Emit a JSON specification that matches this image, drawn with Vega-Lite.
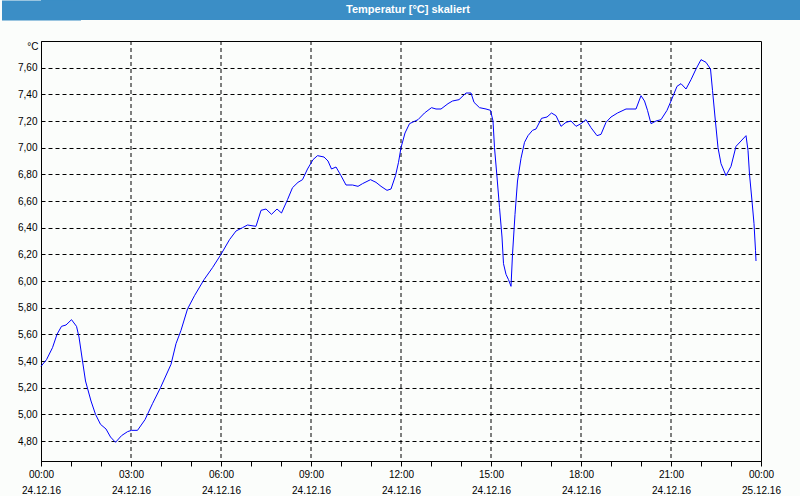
{
  "$schema": "https://vega.github.io/schema/vega-lite/v6.json",
  "background": "#fbfdfb",
  "padding": 0,
  "spacing": 20,
  "columns": 1,
  "config": {"font": "Liberation Sans"},
  "concat": [
    {
      "width": 760,
      "height": 20,
      "view": {"fill": "#3b8ec6", "stroke": null},
      "data": {"values": [{"label": "Temperatur [°C] skaliert"}]},
      "mark": {"type": "text", "color": "white", "fontWeight": "bold", "fontSize": 11, "font": "Liberation Sans", "dx": -13},
      "encoding": {
        "text": {"field": "label"},
        "y": {
          "field": "label",
          "type": "nominal",
          "axis": {"title": null, "labels": false, "ticks": false, "grid": false, "domainColor": "#3b8ec6", "domainWidth": 79, "domainCap": "butt", "minExtent": 40}
        }
      }
    },
    {
      "width": 720,
      "height": 420,
      "view": {"fill": "#fbfdfb", "stroke": "black", "strokeWidth": 1},
      "layer": [
        {
          "data": {"values": [
            {"time": "2016-12-24T03:00:00Z"},
            {"time": "2016-12-24T06:00:00Z"},
            {"time": "2016-12-24T09:00:00Z"},
            {"time": "2016-12-24T12:00:00Z"},
            {"time": "2016-12-24T15:00:00Z"},
            {"time": "2016-12-24T18:00:00Z"},
            {"time": "2016-12-24T21:00:00Z"}
          ]},
          "mark": {"type": "rule", "color": "black", "strokeWidth": 1, "strokeDash": [4, 3]},
          "encoding": {
            "x": {"field": "time", "type": "temporal"}
          }
        },
        {
          "data": {"values": [
            {"time": "2016-12-24T00:00:00Z", "temp": 5.36},
            {"time": "2016-12-24T00:11:00Z", "temp": 5.41},
            {"time": "2016-12-24T00:23:00Z", "temp": 5.50},
            {"time": "2016-12-24T00:32:00Z", "temp": 5.60},
            {"time": "2016-12-24T00:41:00Z", "temp": 5.66},
            {"time": "2016-12-24T00:50:00Z", "temp": 5.67},
            {"time": "2016-12-24T01:01:00Z", "temp": 5.71},
            {"time": "2016-12-24T01:11:00Z", "temp": 5.66},
            {"time": "2016-12-24T01:16:00Z", "temp": 5.58},
            {"time": "2016-12-24T01:23:00Z", "temp": 5.40},
            {"time": "2016-12-24T01:29:00Z", "temp": 5.25},
            {"time": "2016-12-24T01:40:00Z", "temp": 5.10},
            {"time": "2016-12-24T01:49:00Z", "temp": 5.00},
            {"time": "2016-12-24T01:59:00Z", "temp": 4.925},
            {"time": "2016-12-24T02:10:00Z", "temp": 4.89},
            {"time": "2016-12-24T02:19:00Z", "temp": 4.83},
            {"time": "2016-12-24T02:29:00Z", "temp": 4.79},
            {"time": "2016-12-24T02:41:00Z", "temp": 4.84},
            {"time": "2016-12-24T02:53:00Z", "temp": 4.87},
            {"time": "2016-12-24T03:01:00Z", "temp": 4.88},
            {"time": "2016-12-24T03:13:00Z", "temp": 4.88},
            {"time": "2016-12-24T03:28:00Z", "temp": 4.96},
            {"time": "2016-12-24T03:43:00Z", "temp": 5.08},
            {"time": "2016-12-24T03:59:00Z", "temp": 5.20},
            {"time": "2016-12-24T04:20:00Z", "temp": 5.375},
            {"time": "2016-12-24T04:30:00Z", "temp": 5.53},
            {"time": "2016-12-24T04:40:00Z", "temp": 5.63},
            {"time": "2016-12-24T04:53:00Z", "temp": 5.79},
            {"time": "2016-12-24T05:07:00Z", "temp": 5.89},
            {"time": "2016-12-24T05:26:00Z", "temp": 6.01},
            {"time": "2016-12-24T05:43:00Z", "temp": 6.10},
            {"time": "2016-12-24T06:00:00Z", "temp": 6.20},
            {"time": "2016-12-24T06:17:00Z", "temp": 6.31},
            {"time": "2016-12-24T06:30:00Z", "temp": 6.375},
            {"time": "2016-12-24T06:43:00Z", "temp": 6.40},
            {"time": "2016-12-24T06:53:00Z", "temp": 6.42},
            {"time": "2016-12-24T07:10:00Z", "temp": 6.41},
            {"time": "2016-12-24T07:20:00Z", "temp": 6.53},
            {"time": "2016-12-24T07:30:00Z", "temp": 6.54},
            {"time": "2016-12-24T07:41:00Z", "temp": 6.50},
            {"time": "2016-12-24T07:52:00Z", "temp": 6.54},
            {"time": "2016-12-24T08:01:00Z", "temp": 6.51},
            {"time": "2016-12-24T08:13:00Z", "temp": 6.61},
            {"time": "2016-12-24T08:23:00Z", "temp": 6.70},
            {"time": "2016-12-24T08:34:00Z", "temp": 6.74},
            {"time": "2016-12-24T08:43:00Z", "temp": 6.76},
            {"time": "2016-12-24T08:53:00Z", "temp": 6.84},
            {"time": "2016-12-24T09:04:00Z", "temp": 6.91},
            {"time": "2016-12-24T09:13:00Z", "temp": 6.94},
            {"time": "2016-12-24T09:26:00Z", "temp": 6.93},
            {"time": "2016-12-24T09:34:00Z", "temp": 6.90},
            {"time": "2016-12-24T09:41:00Z", "temp": 6.84},
            {"time": "2016-12-24T09:50:00Z", "temp": 6.855},
            {"time": "2016-12-24T10:00:00Z", "temp": 6.79},
            {"time": "2016-12-24T10:10:00Z", "temp": 6.72},
            {"time": "2016-12-24T10:23:00Z", "temp": 6.72},
            {"time": "2016-12-24T10:34:00Z", "temp": 6.71},
            {"time": "2016-12-24T10:43:00Z", "temp": 6.73},
            {"time": "2016-12-24T10:59:00Z", "temp": 6.76},
            {"time": "2016-12-24T11:10:00Z", "temp": 6.74},
            {"time": "2016-12-24T11:20:00Z", "temp": 6.71},
            {"time": "2016-12-24T11:32:00Z", "temp": 6.68},
            {"time": "2016-12-24T11:40:00Z", "temp": 6.69},
            {"time": "2016-12-24T11:49:00Z", "temp": 6.79},
            {"time": "2016-12-24T11:55:00Z", "temp": 6.89},
            {"time": "2016-12-24T12:00:00Z", "temp": 7.00},
            {"time": "2016-12-24T12:08:00Z", "temp": 7.11},
            {"time": "2016-12-24T12:17:00Z", "temp": 7.18},
            {"time": "2016-12-24T12:34:00Z", "temp": 7.21},
            {"time": "2016-12-24T12:47:00Z", "temp": 7.26},
            {"time": "2016-12-24T13:01:00Z", "temp": 7.30},
            {"time": "2016-12-24T13:10:00Z", "temp": 7.29},
            {"time": "2016-12-24T13:20:00Z", "temp": 7.29},
            {"time": "2016-12-24T13:34:00Z", "temp": 7.33},
            {"time": "2016-12-24T13:43:00Z", "temp": 7.35},
            {"time": "2016-12-24T13:56:00Z", "temp": 7.36},
            {"time": "2016-12-24T14:10:00Z", "temp": 7.41},
            {"time": "2016-12-24T14:20:00Z", "temp": 7.41},
            {"time": "2016-12-24T14:26:00Z", "temp": 7.34},
            {"time": "2016-12-24T14:37:00Z", "temp": 7.30},
            {"time": "2016-12-24T14:50:00Z", "temp": 7.29},
            {"time": "2016-12-24T14:59:00Z", "temp": 7.28},
            {"time": "2016-12-24T15:04:00Z", "temp": 7.20},
            {"time": "2016-12-24T15:07:00Z", "temp": 7.00},
            {"time": "2016-12-24T15:12:00Z", "temp": 6.78},
            {"time": "2016-12-24T15:17:00Z", "temp": 6.55},
            {"time": "2016-12-24T15:22:00Z", "temp": 6.33},
            {"time": "2016-12-24T15:25:00Z", "temp": 6.13},
            {"time": "2016-12-24T15:30:00Z", "temp": 6.05},
            {"time": "2016-12-24T15:35:00Z", "temp": 6.01},
            {"time": "2016-12-24T15:40:00Z", "temp": 5.96},
            {"time": "2016-12-24T15:43:00Z", "temp": 6.20},
            {"time": "2016-12-24T15:48:00Z", "temp": 6.50},
            {"time": "2016-12-24T15:53:00Z", "temp": 6.75},
            {"time": "2016-12-24T16:00:00Z", "temp": 6.92},
            {"time": "2016-12-24T16:07:00Z", "temp": 7.04},
            {"time": "2016-12-24T16:14:00Z", "temp": 7.09},
            {"time": "2016-12-24T16:23:00Z", "temp": 7.13},
            {"time": "2016-12-24T16:30:00Z", "temp": 7.14},
            {"time": "2016-12-24T16:41:00Z", "temp": 7.22},
            {"time": "2016-12-24T16:52:00Z", "temp": 7.23},
            {"time": "2016-12-24T17:01:00Z", "temp": 7.26},
            {"time": "2016-12-24T17:10:00Z", "temp": 7.24},
            {"time": "2016-12-24T17:20:00Z", "temp": 7.16},
            {"time": "2016-12-24T17:30:00Z", "temp": 7.19},
            {"time": "2016-12-24T17:40:00Z", "temp": 7.20},
            {"time": "2016-12-24T17:50:00Z", "temp": 7.16},
            {"time": "2016-12-24T18:00:00Z", "temp": 7.18},
            {"time": "2016-12-24T18:10:00Z", "temp": 7.21},
            {"time": "2016-12-24T18:20:00Z", "temp": 7.15},
            {"time": "2016-12-24T18:32:00Z", "temp": 7.09},
            {"time": "2016-12-24T18:40:00Z", "temp": 7.10},
            {"time": "2016-12-24T18:50:00Z", "temp": 7.19},
            {"time": "2016-12-24T19:00:00Z", "temp": 7.23},
            {"time": "2016-12-24T19:13:00Z", "temp": 7.26},
            {"time": "2016-12-24T19:30:00Z", "temp": 7.29},
            {"time": "2016-12-24T19:50:00Z", "temp": 7.29},
            {"time": "2016-12-24T20:00:00Z", "temp": 7.39},
            {"time": "2016-12-24T20:07:00Z", "temp": 7.35},
            {"time": "2016-12-24T20:13:00Z", "temp": 7.28},
            {"time": "2016-12-24T20:20:00Z", "temp": 7.18},
            {"time": "2016-12-24T20:30:00Z", "temp": 7.20},
            {"time": "2016-12-24T20:40:00Z", "temp": 7.21},
            {"time": "2016-12-24T20:52:00Z", "temp": 7.28},
            {"time": "2016-12-24T21:00:00Z", "temp": 7.35},
            {"time": "2016-12-24T21:12:00Z", "temp": 7.46},
            {"time": "2016-12-24T21:20:00Z", "temp": 7.48},
            {"time": "2016-12-24T21:30:00Z", "temp": 7.44},
            {"time": "2016-12-24T21:40:00Z", "temp": 7.51},
            {"time": "2016-12-24T21:50:00Z", "temp": 7.59},
            {"time": "2016-12-24T22:00:00Z", "temp": 7.66},
            {"time": "2016-12-24T22:10:00Z", "temp": 7.64},
            {"time": "2016-12-24T22:19:00Z", "temp": 7.59},
            {"time": "2016-12-24T22:23:00Z", "temp": 7.43},
            {"time": "2016-12-24T22:28:00Z", "temp": 7.23},
            {"time": "2016-12-24T22:34:00Z", "temp": 7.00},
            {"time": "2016-12-24T22:40:00Z", "temp": 6.88},
            {"time": "2016-12-24T22:50:00Z", "temp": 6.79},
            {"time": "2016-12-24T23:00:00Z", "temp": 6.86},
            {"time": "2016-12-24T23:10:00Z", "temp": 7.01},
            {"time": "2016-12-24T23:20:00Z", "temp": 7.05},
            {"time": "2016-12-24T23:30:00Z", "temp": 7.09},
            {"time": "2016-12-24T23:34:00Z", "temp": 6.98},
            {"time": "2016-12-24T23:37:00Z", "temp": 6.80},
            {"time": "2016-12-24T23:42:00Z", "temp": 6.60},
            {"time": "2016-12-24T23:46:00Z", "temp": 6.43},
            {"time": "2016-12-24T23:49:00Z", "temp": 6.23},
            {"time": "2016-12-24T23:50:00Z", "temp": 6.15}
          ]},
          "mark": {"type": "line", "color": "#0000ff", "strokeWidth": 1},
          "encoding": {
            "x": {
              "field": "time",
              "type": "temporal",
              "scale": {
                "type": "utc",
                "domain": [
                  {"year": 2016, "month": 12, "date": 24, "utc": true},
                  {"year": 2016, "month": 12, "date": 25, "utc": true}
                ],
                "nice": false
              },
              "axis": {
                "title": null,
                "tickCount": 24,
                "tickSize": 5,
                "tickColor": "black",
                "domainColor": "black",
                "labelExpr": "utchours(datum.value) % 3 == 0 ? [utcFormat(datum.value, '%H:%M'), utcFormat(datum.value, '%d.%m.%y')] : ''",
                "labelOverlap": false,
                "labelFlush": false,
                "labelBaseline": "top",
                "labelPadding": 3,
                "labelLineHeight": 16,
                "labelColor": "black",
                "labelFontSize": 10,
                "grid": false
              }
            },
            "y": {
              "field": "temp",
              "type": "quantitative",
              "scale": {"domain": [4.65, 7.8], "nice": false, "zero": false},
              "axis": {
                "title": "°C",
                "titleAngle": 0,
                "titleX": -3,
                "titleY": 5,
                "titleAlign": "right",
                "titleBaseline": "middle",
                "titleFontWeight": "normal",
                "titleFontSize": 10,
                "titleColor": "black",
                "values": [4.8, 5.0, 5.2, 5.4, 5.6, 5.8, 6.0, 6.2, 6.4, 6.6, 6.8, 7.0, 7.2, 7.4, 7.6],
                "labelExpr": "replace(format(datum.value, '.2f'), '.', ',')",
                "ticks": false,
                "labelPadding": 4,
                "labelColor": "black",
                "labelFontSize": 10,
                "domainColor": "black",
                "grid": true,
                "gridColor": "black",
                "gridDash": [4, 3],
                "gridOpacity": 1,
                "minExtent": 40
              }
            }
          }
        }
      ]
    }
  ]
}
